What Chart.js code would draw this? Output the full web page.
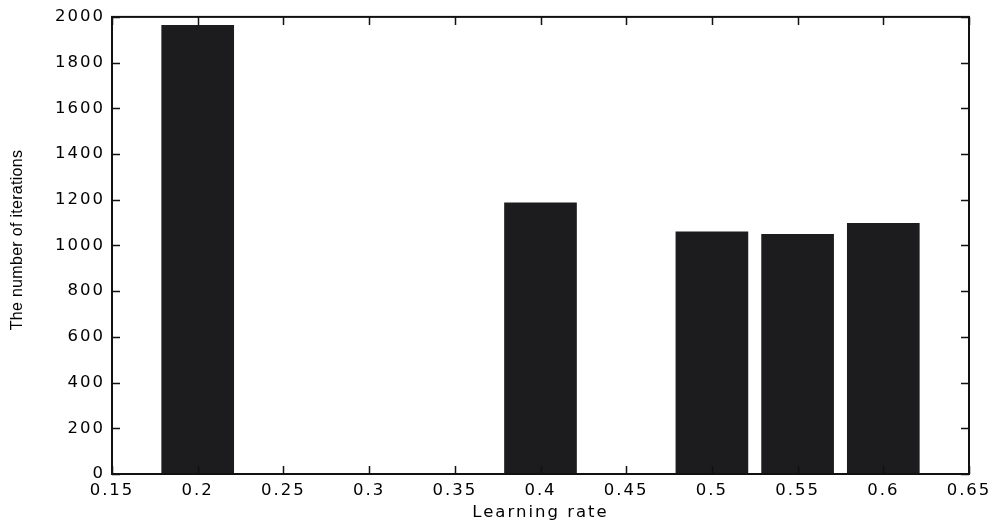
<!DOCTYPE html>
<html>
<head>
<meta charset="utf-8">
<script src="https://cdn.jsdelivr.net/npm/chart.js@4/dist/chart.umd.min.js"></script>
<style>
    html, body { margin: 0; padding: 0; background: #fff; }
    #wrap { width: 1002px; height: 528px; }
</style>
</head>
<body>
<div id="wrap"><canvas id="iterChart" width="1002" height="528"></canvas></div>
<script>
// data
const learningRates = [0.2, 0.4, 0.5, 0.55, 0.6];
const iterations = [1963, 1186, 1060, 1049, 1097];
const xTicks = [0.15, 0.2, 0.25, 0.3, 0.35, 0.4, 0.45, 0.5, 0.55, 0.6, 0.65];
const yTicks = [0, 200, 400, 600, 800, 1000, 1200, 1400, 1600, 1800, 2000];
const xTitle = 'Learning rate';
const yTitle = 'The number of iterations';

const spacing = '2px';
const tickFont = { family: '"DejaVu Sans", sans-serif', size: 16.5 };

// matlab style box with ticks pointing inward
const boxPlugin = {
    id: 'box',
    beforeLayout(chart) { chart.ctx.letterSpacing = spacing; },
    beforeDraw(chart) { chart.ctx.letterSpacing = spacing; },
    afterDraw(chart) {
        const ctx = chart.ctx;
        const a = chart.chartArea;
        const x = chart.scales.x, y = chart.scales.y;
        const len = 8;
        ctx.save();
        ctx.strokeStyle = '#111';
        ctx.lineWidth = 1.5;
        ctx.beginPath();
        x.ticks.forEach(t => {
            const px = Math.round(x.getPixelForValue(t.value)) + 0.5;
            ctx.moveTo(px, a.bottom); ctx.lineTo(px, a.bottom - len);
            ctx.moveTo(px, a.top); ctx.lineTo(px, a.top + len);
        });
        y.ticks.forEach(t => {
            const py = Math.round(y.getPixelForValue(t.value)) + 0.5;
            ctx.moveTo(a.left, py); ctx.lineTo(a.left + len, py);
            ctx.moveTo(a.right, py); ctx.lineTo(a.right - len, py);
        });
        ctx.stroke();
        ctx.lineWidth = 2;
        ctx.strokeRect(a.left, a.top, a.right - a.left, a.bottom - a.top);

        // y axis title, narrow font
        ctx.letterSpacing = '0.3px';
        ctx.fillStyle = '#000';
        ctx.font = '16px "Liberation Sans Narrow", "Liberation Sans", sans-serif';
        ctx.textAlign = 'center';
        ctx.textBaseline = 'middle';
        ctx.translate(18, 240);
        ctx.rotate(-Math.PI / 2);
        ctx.fillText(yTitle, 0, 0);
        ctx.restore();
    }
};

const ctx = document.getElementById('iterChart').getContext('2d');
const chart = new Chart(ctx, {
    type: 'bar',
    data: {
        datasets: [{
            label: yTitle,
            data: learningRates.map((r, i) => ({ x: r, y: iterations[i] })),
            backgroundColor: '#1c1c1e',
            borderWidth: 0,
            barThickness: 72
        }]
    },
    options: {
        responsive: false,
        animation: false,
        events: [],
        layout: { padding: { top: 15, right: 33, left: 0, bottom: 0 } },
        plugins: {
            legend: { display: false },
            tooltip: { enabled: false }
        },
        scales: {
            x: {
                type: 'linear',
                offset: false,
                min: 0.15,
                max: 0.65,
                afterBuildTicks: s => { s.ticks = xTicks.map(v => ({ value: v })); },
                afterFit: s => { s.height = 54; },
                grid: { display: false, drawTicks: false },
                border: { display: false },
                ticks: {
                    color: '#000',
                    padding: 7,
                    font: tickFont,
                    maxRotation: 0,
                    autoSkip: false,
                    callback: v => String(+v.toFixed(2))
                },
                title: {
                    display: true,
                    text: xTitle,
                    color: '#000',
                    padding: { top: 0, bottom: 5 },
                    font: tickFont
                }
            },
            y: {
                min: 0,
                max: 2000,
                afterBuildTicks: s => { s.ticks = yTicks.map(v => ({ value: v })); },
                afterFit: s => { s.width = 112; },
                grid: { display: false, drawTicks: false },
                border: { display: false },
                ticks: {
                    color: '#000',
                    padding: 7,
                    font: tickFont,
                    callback: v => String(v)
                }
            }
        }
    },
    plugins: [boxPlugin]
});
</script>
</body>
</html>
